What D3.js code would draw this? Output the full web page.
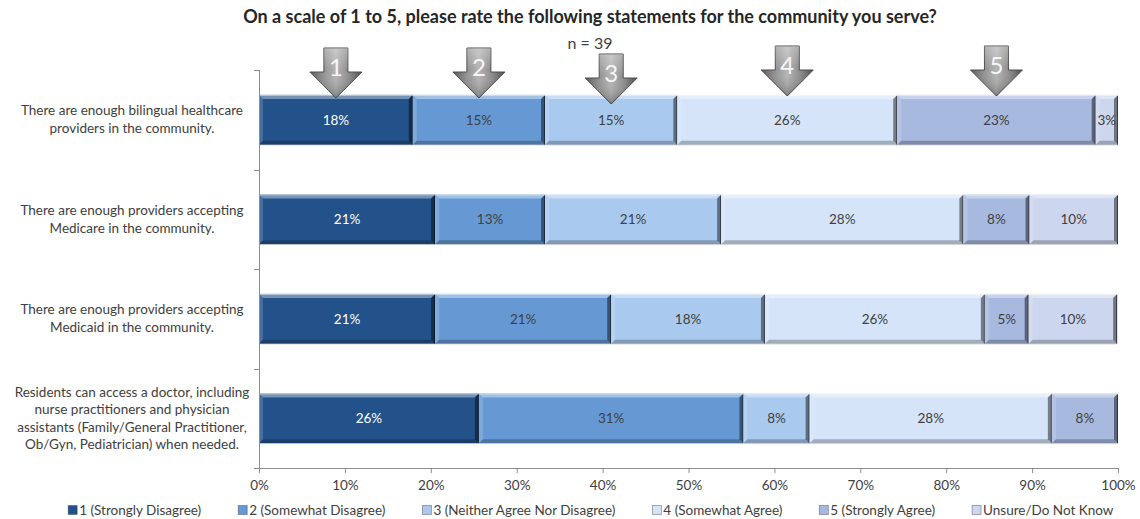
<!DOCTYPE html>
<html>
<head>
<meta charset="utf-8">
<script src="https://cdn.jsdelivr.net/npm/d3@7"></script>
<style>
  html, body { margin: 0; padding: 0; background: #fff; }
  svg { display: block; font-family: Lato, "Open Sans", sans-serif; }
</style>
</head>
<body>
<svg id="chart" width="1140" height="519"></svg>
<script>
// Survey statements (line breaks mark the wrapped label lines)
const categories = [
  "There are enough bilingual healthcare\nproviders in the community.",
  "There are enough providers accepting\nMedicare in the community.",
  "There are enough providers accepting\nMedicaid in the community.",
  "Residents can access a doctor, including\nnurse practitioners and physician\nassistants (Family/General Practitioner,\nOb/Gyn, Pediatrician) when needed."
];

const seriesNames = [
  "1 (Strongly Disagree)",
  "2 (Somewhat Disagree)",
  "3 (Neither Agree Nor Disagree)",
  "4 (Somewhat Agree)",
  "5 (Strongly Agree)",
  "Unsure/Do Not Know"
];

// Percent of respondents per statement, one array per rating
const strongDisagree = [17.9, 20.5, 20.5, 25.6];
const somewhatDisagree = [15.4, 12.8, 20.5, 30.8];
const neutral = [15.4, 20.5, 17.9, 7.7];
const somewhatAgree = [25.6, 28.2, 25.6, 28.2];
const strongAgree = [23.1, 7.7, 5.1, 7.7];
const unsure = [2.6, 10.3, 10.3, 0];

const xTicks = [0, 10, 20, 30, 40, 50, 60, 70, 80, 90, 100];
const scaleMarkers = ["1", "2", "3", "4", "5"];

const titleText = "On a scale of 1 to 5, please rate the following statements for the community you serve?";
const subtitleText = "n = 39";

const colors = ["#23528a", "#6699d3", "#aac9ee", "#d5e4f8", "#a7b9df", "#cdd6ef"];
const labelColors = ["#ffffff", "#404040", "#404040", "#404040", "#404040", "#404040"];

const seriesValues = [strongDisagree, somewhatDisagree, neutral, somewhatAgree, strongAgree, unsure];
const table = categories.map((c, i) => {
  const row = { category: c };
  seriesNames.forEach((s, j) => { row[s] = seriesValues[j][i]; });
  return row;
});

const svg = d3.select("#chart");
const plotLeft = 259, plotRight = 1118, plotTop = 70, plotBottom = 468;
const baseFont = 13.5;

const x = d3.scaleLinear().domain([0, 100]).range([plotLeft, plotRight]);
const y = d3.scaleBand().domain(categories).range([plotTop, plotBottom])
  .paddingInner(0.5).paddingOuter(0.25);
const color = d3.scaleOrdinal().domain(seriesNames).range(colors);

const stacked = d3.stack().keys(seriesNames)(table);

// Title
svg.append("text").attr("x", 590).attr("y", 23).attr("text-anchor", "middle")
  .attr("font-size", 18).attr("font-weight", "bold").attr("fill", "#262626")
  .text(titleText);
svg.append("text").attr("x", 590).attr("y", 49).attr("text-anchor", "middle")
  .attr("font-size", 16).attr("fill", "#404040").text(subtitleText);

// Bevelled segments
const bevel = 4;
const layers = svg.append("g").selectAll("g").data(stacked).join("g");

layers.each(function (layer, si) {
  const g = d3.select(this);
  layer.forEach(d => {
    const v = d[1] - d[0];
    if (v <= 0) return;
    const x0 = x(d[0]), x1 = x(d[1]);
    const y0 = y(d.data.category), y1 = y0 + y.bandwidth();
    const seg = g.append("g");
    seg.append("rect").attr("x", x0).attr("y", y0).attr("width", x1 - x0).attr("height", y1 - y0)
      .attr("fill", color(layer.key));
    const b = Math.min(bevel, (x1 - x0) / 2);
    const poly = pts => pts.map(p => p.join(",")).join(" ");
    seg.append("polygon").attr("points", poly([[x0, y0], [x1, y0], [x1 - b, y0 + b], [x0 + b, y0 + b]]))
      .attr("fill", "#ffffff").attr("opacity", 0.38);
    seg.append("polygon").attr("points", poly([[x0, y0], [x0 + b, y0 + b], [x0 + b, y1 - b], [x0, y1]]))
      .attr("fill", "#ffffff").attr("opacity", 0.16);
    seg.append("polygon").attr("points", poly([[x0, y1], [x1, y1], [x1 - b, y1 - b], [x0 + b, y1 - b]]))
      .attr("fill", "#000000").attr("opacity", 0.24);
    seg.append("polygon").attr("points", poly([[x1, y0], [x1 - b, y0 + b], [x1 - b, y1 - b], [x1, y1]]))
      .attr("fill", "#000000").attr("opacity", 0.45);
    seg.append("line").attr("x1", x1 - 0.5).attr("x2", x1 - 0.5).attr("y1", y0 + 1).attr("y2", y1)
      .attr("stroke", "#000").attr("stroke-opacity", 0.5);
    seg.append("line").attr("x1", x0).attr("x2", x1).attr("y1", y0 + 0.5).attr("y2", y0 + 0.5)
      .attr("stroke", "#fff").attr("stroke-opacity", 0.5);
    seg.append("line").attr("x1", x0).attr("x2", x1).attr("y1", y1 + 0.5).attr("y2", y1 + 0.5)
      .attr("stroke", "#000").attr("stroke-opacity", 0.12);
    seg.append("text").attr("x", (x0 + x1) / 2).attr("y", (y0 + y1) / 2 + 5)
      .attr("text-anchor", "middle").attr("font-size", baseFont).attr("fill", labelColors[si])
      .text(d3.format(".0f")(v) + "%");
  });
});

// Axes
const xAxis = svg.append("g").attr("transform", `translate(0,${plotBottom})`)
  .call(d3.axisBottom(x).tickValues(xTicks).tickSize(5).tickSizeOuter(0).tickFormat(d => d + "%"));
xAxis.select(".domain").attr("stroke", "#8c8c8c");
xAxis.selectAll(".tick line").attr("stroke", "#8c8c8c");
xAxis.selectAll(".tick text").attr("font-size", baseFont).attr("fill", "#404040").attr("dy", "1.05em")
  .style("font-family", "Lato, 'Open Sans', sans-serif");

const bandEdges = categories.map(c => y(c) - y.step() * y.paddingInner() / 2).concat([plotBottom]);
bandEdges[0] = plotTop;
const yAxis = svg.append("g");
yAxis.append("line").attr("x1", plotLeft + 0.5).attr("x2", plotLeft + 0.5).attr("y1", plotTop).attr("y2", plotBottom)
  .attr("stroke", "#8c8c8c");
yAxis.selectAll("line.tk").data(bandEdges).join("line").attr("class", "tk")
  .attr("x1", plotLeft - 5).attr("x2", plotLeft).attr("y1", d => Math.round(d) + 0.5).attr("y2", d => Math.round(d) + 0.5)
  .attr("stroke", "#8c8c8c");

// Category labels
const catG = svg.append("g");
categories.forEach(c => {
  const lines = c.split("\n");
  const cy = y(c) + y.bandwidth() / 2;
  const lh = lines.length > 2 ? 17.5 : 18;
  const t = catG.append("text").attr("text-anchor", "middle").attr("font-size", baseFont).attr("fill", "#404040");
  lines.forEach((ln, i) => {
    t.append("tspan").attr("x", 132)
      .attr("y", cy + (i - (lines.length - 1) / 2) * lh + 4.5).text(ln);
  });
});

// Rating arrows above the first statement's segments
const defs = svg.append("defs");
const hg = defs.append("linearGradient").attr("id", "arrowH").attr("x1", "0").attr("x2", "1").attr("y1", "0").attr("y2", "0");
[[0, "#555555"], [0.25, "#8e8e8e"], [0.5, "#b4b4b4"], [0.75, "#8a8a8a"], [1, "#4a4a4a"]]
  .forEach(s => hg.append("stop").attr("offset", s[0]).attr("stop-color", s[1]));
const vg = defs.append("linearGradient").attr("id", "arrowV").attr("x1", "0").attr("x2", "0").attr("y1", "0").attr("y2", "1");
[[0, "#ffffff", 0.3], [0.45, "#ffffff", 0.0], [1, "#000000", 0.3]]
  .forEach(s => vg.append("stop").attr("offset", s[0]).attr("stop-color", s[1]).attr("stop-opacity", s[2]));

const firstRow = stacked.map(layer => layer[0]);
const arrowLift = [0, 0, 6, -2, -2];
const arrowTipBase = 98;
scaleMarkers.forEach((m, i) => {
  const d = firstRow[i];
  const cx = x((d[0] + d[1]) / 2);
  const tip = arrowTipBase + arrowLift[i];
  const sw = 12, hw = 26, hh = 26, total = 50;
  const topY = tip - total, neck = tip - hh;
  const path = `M${cx - sw},${topY} L${cx + sw},${topY} L${cx + sw},${neck} L${cx + hw},${neck} L${cx},${tip} L${cx - hw},${neck} L${cx - sw},${neck} Z`;
  const g = svg.append("g");
  g.append("path").attr("d", path).attr("fill", "url(#arrowH)").attr("stroke", "#4d4d4d").attr("stroke-width", 1);
  g.append("path").attr("d", path).attr("fill", "url(#arrowV)");
  g.append("text").attr("x", cx).attr("y", topY + 28).attr("text-anchor", "middle")
    .attr("font-size", 24).attr("fill", "#f6f6f6")
    .text(m);
});

// Legend
const legend = svg.append("g");
const items = legend.selectAll("g").data(seriesNames).join("g");
items.append("rect").attr("width", 9).attr("height", 9).attr("y", -9.5)
  .attr("fill", d => color(d)).attr("stroke", "#3a3a3a").attr("stroke-opacity", 0.5).attr("stroke-width", 0.8);
items.append("text").attr("x", 11).attr("y", 0).attr("font-size", baseFont).attr("fill", "#404040").text(d => d);
const widths = [];
items.each(function () { widths.push(this.getBBox().width); });
const gap = 37;
const totalW = d3.sum(widths) + gap * (widths.length - 1);
let cursor = 591 - totalW / 2;
items.attr("transform", (d, i) => {
  const tx = cursor;
  cursor += widths[i] + gap;
  return `translate(${tx},515)`;
});
</script>
</body>
</html>
